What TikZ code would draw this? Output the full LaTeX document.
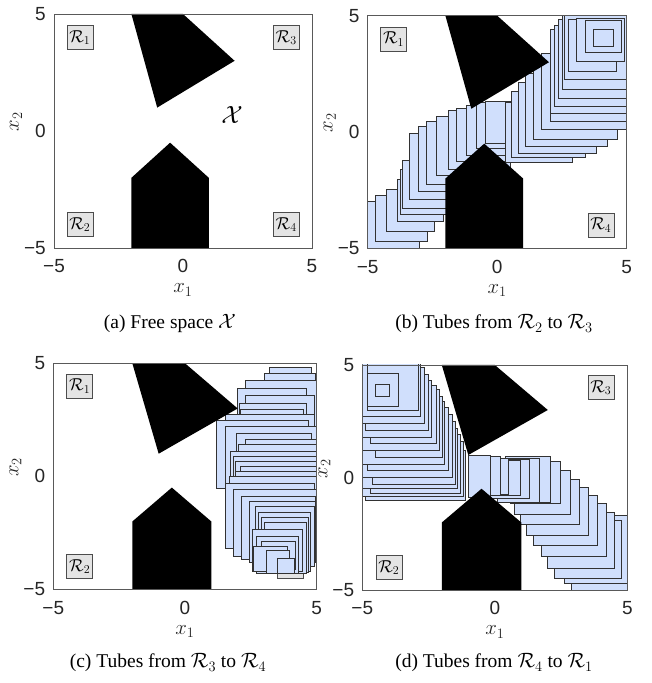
\documentclass[tikz,border=0pt]{standalone}
\usepackage{fontspec}
\newfontfamily\tickfont{Liberation Sans}
\newfontfamily\capfont{Liberation Serif}
\definecolor{tubefill}{RGB}{208,223,252}
\definecolor{tubeline}{RGB}{50,50,50}
\definecolor{rboxfill}{RGB}{228,228,228}
\tikzset{
  tube/.style={fill=tubefill, draw=tubeline, line width=0.85pt},
  obst/.style={fill=black, draw=none},
  axbox/.style={draw=black!65, line width=0.8pt},
  rlab/.style={draw=black!70, fill=rboxfill, line width=0.6pt, minimum width=26pt, minimum height=24pt, inner sep=0pt, font=\fontsize{17}{17}\selectfont},
  ticklab/.style={font=\tickfont\fontsize{19}{19}\selectfont, inner sep=0pt, text=black!85},
  axlab/.style={font=\fontsize{22}{22}\selectfont, inner sep=0pt, text=black!85},
  caplab/.style={font=\capfont\fontsize{19.5}{19.5}\selectfont, inner sep=0pt, anchor=base},
}
% frame coordinates of a panel (inside its scaled scope)
\newcommand\panelcoords[1]{%
  \coordinate (#1ll) at (-5,-5); \coordinate (#1lr) at (5,-5);
  \coordinate (#1ul) at (-5,5);  \coordinate (#1ur) at (5,5);
  \coordinate (#1l0) at (-5,0);  \coordinate (#1b0) at (0,-5);
}
\newcommand\regions[1]{%
  \node[rlab] (#1r1) at (-4,4)  {$\mathcal{R}_1$};
  \node[rlab] (#1r2) at (-4,-4) {$\mathcal{R}_2$};
  \node[rlab] (#1r3) at (4,4)   {$\mathcal{R}_3$};
  \node[rlab] (#1r4) at (4,-4)  {$\mathcal{R}_4$};
}
\newcommand\obstacles{%
  \fill[obst] (-2,5) -- (0,5) -- (2,3) -- (-1,1) -- cycle;
  \fill[obst] (-2,-5) -- (-2,-2) -- (-0.5,-0.5) -- (1,-2) -- (1,-5) -- cycle;
}
\newcommand\tubes[1]{%
  \begin{scope}
    \clip (-5,-5) rectangle (5,5);
    \foreach \a/\b/\c/\d in {#1} {\draw[tube] (\a,\b) rectangle (\c,\d);}
  \end{scope}
}
\newcommand\frameaxes{\draw[axbox] (-5,-5) rectangle (5,5);}
\newcommand\axlabels[1]{%
  \node[ticklab, anchor=east] (#1y5) at ([xshift=-8pt]#1ul) {5};
  \node[ticklab, anchor=east] (#1y0) at ([xshift=-8pt]#1l0) {0};
  \node[ticklab, anchor=east] (#1ym) at ([xshift=-8pt]#1ll) {−5};
  \node[ticklab, anchor=north] (#1xm) at ([yshift=-11.5pt]#1ll) {−5};
  \node[ticklab, anchor=north] (#1x0) at ([yshift=-11.5pt]#1b0) {0};
  \node[ticklab, anchor=north] (#1x5) at ([yshift=-11.5pt]#1lr) {5};
  \node[axlab, anchor=base] (#1xl) at ([yshift=-45pt]#1b0) {$x_1$};
  \node[axlab, anchor=base, rotate=90] (#1yl) at ([xshift=-35pt,yshift=9pt]#1l0) {$x_2$};
}
\begin{document}
\begin{tikzpicture}[x=1pt,y=1pt]
\useasboundingbox (0,0) rectangle (651,683);
\fill[white] (0,0) rectangle (651,683);

% ---------------- (a) ----------------
\begin{scope}[shift={(183,552)}, xscale=25.8, yscale=23.4]
  \panelcoords{a}
  \regions{a}
  \obstacles
  \node[font=\fontsize{24}{24}\selectfont, inner sep=0pt] (aX) at (1.9,0.7) {$\mathcal{X}$};
  \frameaxes
\end{scope}
\axlabels{a}
\node[caplab] (capa) at (170,354) {(a) Free space $\mathcal{X}$};

% ---------------- (b) ----------------
\begin{scope}[shift={(497.2,551)}, xscale=25.9, yscale=23.26]
  \panelcoords{b}
  \regions{b}
  \tubes{-5.6/-5.6/-3.0/-3.0, -4.69/-4.72/-2.68/-2.71, -4.27/-4.29/-2.44/-2.46,
    -3.86/-3.86/-2.06/-2.06, -3.73/-3.53/-1.83/-1.63, -3.65/-3.28/-1.6/-1.23,
    -3.37/-2.92/-0.6/-0.06, -3.05/-2.57/-0.4/0.23, -2.72/-2.24/-0.1/0.44,
    -2.34/-1.85/0.2/0.66, -1.89/-1.63/0.5/0.92, -1.56/-1.28/0.7/1.02,
    -1.18/-0.99/0.9/1.16, -0.79/-0.70/1.1/1.26, -0.47/-0.49/1.3/1.30,
    0.30/-1.32/2.90/1.28, 0.55/-1.10/3.40/1.75, 0.80/-0.92/3.85/2.13,
    1.10/-0.63/4.25/2.52, 1.40/-0.34/4.65/2.91, 1.72/0.09/5.02/3.39,
    2.04/0.44/5.5/3.94, 2.04/0.80/5.6/4.39, 2.2/1.09/5.6/4.6,
    2.36/1.45/5.5/4.82, 2.5/1.81/5.3/5.1, 2.6/2.24/5.0/5.2,
    2.75/2.6/4.61/4.82, 3.07/3.02/4.93/4.9, 3.39/3.41/4.8/4.8, 3.71/3.67/4.48/4.39}
  \obstacles
  \frameaxes
\end{scope}
\axlabels{b}
\node[caplab] (capb) at (494,354) {(b) Tubes from $\mathcal{R}_2$ to $\mathcal{R}_3$};

% ---------------- (c) ----------------
\begin{scope}[shift={(185,206.7)}, xscale=26.34, yscale=22.6]
  \panelcoords{c}
  \regions{c}
  \tubes{3.2/2.6/4.81/4.82, 3.0/2.2/4.97/4.56, 2.28/1.8/5.3/4.26,
    2.0/1.4/4.62/3.9, 2.3/1.0/4.9/3.6, 2.07/0.6/4.6/3.24,
    2.1/0.3/4.5/2.94, 1.52/0.0/4.9/2.72, 1.2/-0.53/4.7/2.46,
    1.55/-0.7/5.2/2.2, 1.94/-0.9/4.8/1.9, 2.28/-1.0/5.3/1.62,
    2.03/-1.2/5.1/1.4, 1.71/-1.4/5.3/1.1, 1.84/-1.6/5.0/0.88,
    1.92/-1.8/5.3/0.66, 2.1/-2.0/5.2/0.44, 1.9/-2.2/5.3/0.22,
    1.7/-2.4/5.0/0.0, 1.52/-3.2/4.9/-0.31, 1.84/-3.55/5.0/-0.6,
    2.15/-3.7/4.94/-0.9, 2.45/-3.8/4.94/-1.1, 2.66/-4.0/4.9/-1.32,
    2.78/-4.19/4.75/-1.62, 2.9/-4.25/4.7/-1.84, 3.0/-4.3/4.6/-2.06,
    2.57/-4.2/4.45/-2.35, 2.7/-4.3/4.3/-2.65, 2.9/-4.1/4.2/-2.87,
    2.6/-4.19/3.9/-3.1, 3.1/-4.3/3.96/-3.3, 3.52/-4.29/4.15/-3.63}
  \obstacles
  \frameaxes
\end{scope}
\axlabels{c}
\node[caplab] (capc) at (168,15) {(c) Tubes from $\mathcal{R}_3$ to $\mathcal{R}_4$};

% ---------------- (d) ----------------
\begin{scope}[shift={(494.8,205.5)}, xscale=26.5, yscale=22.5]
  \panelcoords{d}
  \regions{d}
  \tubes{2.9/-5.5/5.6/-2.6, 2.61/-4.73/5.04/-1.67, 2.25/-4.48/4.79/-1.9,
    2.0/-4.04/4.5/-1.55, 1.75/-3.52/4.2/-1.15, 1.45/-3.04/3.87/-0.8,
    1.2/-2.56/3.53/-0.45, 0.95/-2.07/3.19/-0.1, 0.75/-1.62/2.84/0.3,
    0.6/-1.15/2.49/0.7, 0.4/-1.1/2.1/0.95, 0.1/-1.1/1.7/0.85,
    -0.18/-0.95/1.32/0.8, -0.45/-0.8/0.95/0.75, -0.62/-0.75/0.5/0.85,
    -0.85/-0.8/0.2/0.95, -1.0/-0.9/-0.18/1.0,
    -4.9/-1.0/-1.1/1.2, -5.2/-0.85/-1.2/1.6, -4.7/-0.7/-1.3/1.9,
    -5.2/-0.5/-1.4/2.2, -4.6/-0.3/-1.5/2.5, -5.1/0.0/-1.6/2.8,
    -4.8/0.3/-1.75/3.1, -5.2/0.6/-1.9/3.4, -4.5/0.9/-1.98/3.6,
    -5.3/1.2/-2.1/3.9, -4.7/1.5/-2.2/4.1, -5.2/1.8/-2.4/4.3,
    -4.9/2.1/-2.5/4.6, -5.3/2.4/-2.66/4.9, -5.0/2.7/-2.8/5.1,
    -4.8/3.0/-2.9/5.2, -4.8/3.14/-3.63/4.64, -4.49/3.59/-3.98/4.14}
  \obstacles
  \frameaxes
\end{scope}
\axlabels{d}
\node[caplab] (capd) at (494,15) {(d) Tubes from $\mathcal{R}_4$ to $\mathcal{R}_1$};
\end{tikzpicture}
\end{document}
